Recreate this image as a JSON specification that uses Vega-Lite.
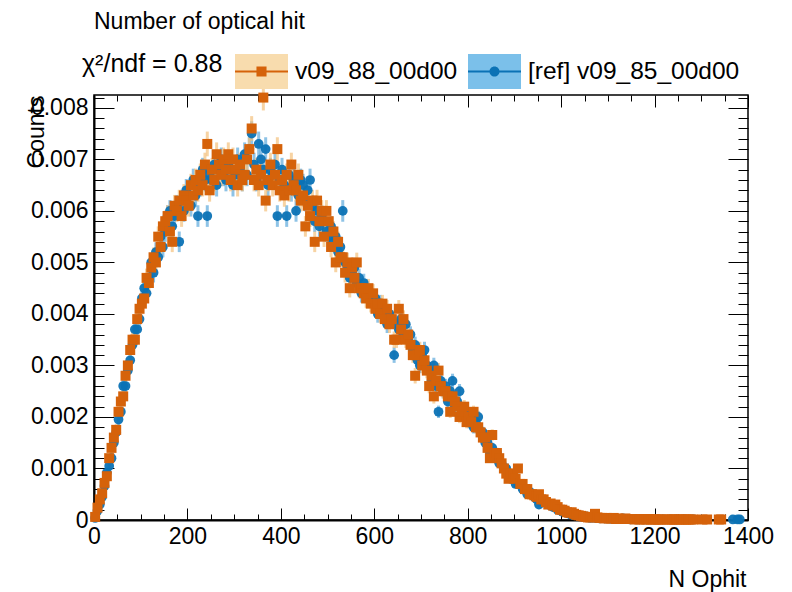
{
  "$schema": "https://vega.github.io/schema/vega-lite/v6.json",
  "width": 654,
  "height": 425,
  "autosize": {"type": "none"},
  "padding": {"left": 94, "top": 95, "right": 44, "bottom": 72},
  "background": "white",
  "title": {"text": "Number of optical hit", "anchor": "start", "frame": "group", "font": "Liberation Sans", "fontSize": 23, "fontWeight": "normal", "color": "black", "baseline": "alphabetic", "offset": -7},
  "data": {"values": [
    {"n":2.5,"o":0.00006,"oe":0.00002,"b":0.00004,"be":0.00002},
    {"n":7.5,"o":0.00024,"oe":0.00004,"b":0.00018,"be":0.00004},
    {"n":12.5,"o":0.0004,"oe":0.00005,"b":0.0003,"be":0.00005},
    {"n":17.5,"o":0.00052,"oe":0.00006,"b":0.00045,"be":0.00006},
    {"n":22.5,"o":0.00072,"oe":0.00007,"b":0.00066,"be":0.00007},
    {"n":27.5,"o":0.00085,"oe":0.00008,"b":0.00092,"be":0.00008},
    {"n":32.5,"o":0.0012,"oe":0.00009,"b":0.00105,"be":0.00009},
    {"n":37.5,"o":0.0014,"oe":0.0001,"b":0.0012,"be":0.00009},
    {"n":42.5,"o":0.0016,"oe":0.00011,"b":0.0015,"be":0.0001},
    {"n":47.5,"o":0.00175,"oe":0.00011,"b":0.0017,"be":0.00011},
    {"n":52.5,"o":0.0021,"oe":0.00012,"b":0.00195,"be":0.00012},
    {"n":57.5,"o":0.0023,"oe":0.00013,"b":0.0021,"be":0.00012},
    {"n":62.5,"o":0.0024,"oe":0.00013,"b":0.0026,"be":0.00014},
    {"n":67.5,"o":0.0028,"oe":0.00014,"b":0.0026,"be":0.00014},
    {"n":72.5,"o":0.003,"oe":0.00015,"b":0.0029,"be":0.00015},
    {"n":77.5,"o":0.0033,"oe":0.00015,"b":0.0031,"be":0.00015},
    {"n":82.5,"o":0.0035,"oe":0.00016,"b":0.0034,"be":0.00016},
    {"n":87.5,"o":0.0035,"oe":0.00016,"b":0.0037,"be":0.00016},
    {"n":92.5,"o":0.0039,"oe":0.00017,"b":0.0037,"be":0.00016},
    {"n":97.5,"o":0.0041,"oe":0.00017,"b":0.0039,"be":0.00017},
    {"n":102.5,"o":0.0042,"oe":0.00017,"b":0.0043,"be":0.00018},
    {"n":107.5,"o":0.0043,"oe":0.00018,"b":0.0045,"be":0.00018},
    {"n":112.5,"o":0.0047,"oe":0.00018,"b":0.0044,"be":0.00018},
    {"n":117.5,"o":0.0046,"oe":0.00018,"b":0.0047,"be":0.00018},
    {"n":122.5,"o":0.0049,"oe":0.00019,"b":0.005,"be":0.00019},
    {"n":127.5,"o":0.0051,"oe":0.00019,"b":0.0048,"be":0.00019},
    {"n":132.5,"o":0.005,"oe":0.00019,"b":0.0052,"be":0.00019},
    {"n":137.5,"o":0.0055,"oe":0.0002,"b":0.0051,"be":0.00019},
    {"n":142.5,"o":0.0053,"oe":0.0002,"b":0.0055,"be":0.0002},
    {"n":147.5,"o":0.0057,"oe":0.0002,"b":0.0053,"be":0.0002},
    {"n":152.5,"o":0.0058,"oe":0.00021,"b":0.0056,"be":0.0002},
    {"n":157.5,"o":0.0059,"oe":0.00021,"b":0.0059,"be":0.00021},
    {"n":162.5,"o":0.0056,"oe":0.0002,"b":0.006,"be":0.00021},
    {"n":167.5,"o":0.0054,"oe":0.0002,"b":0.0057,"be":0.0002},
    {"n":172.5,"o":0.0061,"oe":0.00021,"b":0.0059,"be":0.00021},
    {"n":177.5,"o":0.006,"oe":0.00021,"b":0.0061,"be":0.00021},
    {"n":182.5,"o":0.0062,"oe":0.00021,"b":0.0054,"be":0.0002},
    {"n":187.5,"o":0.0059,"oe":0.00021,"b":0.0062,"be":0.00021},
    {"n":192.5,"o":0.0063,"oe":0.00022,"b":0.006,"be":0.00021},
    {"n":197.5,"o":0.0062,"oe":0.00021,"b":0.0064,"be":0.00022},
    {"n":202.5,"o":0.0061,"oe":0.00021,"b":0.0063,"be":0.00022},
    {"n":207.5,"o":0.0065,"oe":0.00022,"b":0.0061,"be":0.00021},
    {"n":212.5,"o":0.0063,"oe":0.00022,"b":0.0066,"be":0.00022},
    {"n":217.5,"o":0.0066,"oe":0.00022,"b":0.0063,"be":0.00022},
    {"n":222.5,"o":0.0064,"oe":0.00022,"b":0.0059,"be":0.00021},
    {"n":227.5,"o":0.0067,"oe":0.00022,"b":0.0065,"be":0.00022},
    {"n":232.5,"o":0.0065,"oe":0.00022,"b":0.0068,"be":0.00023},
    {"n":237.5,"o":0.0069,"oe":0.00023,"b":0.0066,"be":0.00022},
    {"n":242.5,"o":0.0073,"oe":0.00024,"b":0.0059,"be":0.00021},
    {"n":247.5,"o":0.0064,"oe":0.00022,"b":0.0067,"be":0.00022},
    {"n":252.5,"o":0.0068,"oe":0.00023,"b":0.0066,"be":0.00022},
    {"n":257.5,"o":0.0066,"oe":0.00022,"b":0.0069,"be":0.00023},
    {"n":262.5,"o":0.0071,"oe":0.00023,"b":0.0065,"be":0.00022},
    {"n":267.5,"o":0.0069,"oe":0.00023,"b":0.0068,"be":0.00023},
    {"n":272.5,"o":0.0067,"oe":0.00022,"b":0.007,"be":0.00023},
    {"n":277.5,"o":0.007,"oe":0.00023,"b":0.0067,"be":0.00022},
    {"n":282.5,"o":0.0068,"oe":0.00023,"b":0.0066,"be":0.00022},
    {"n":287.5,"o":0.0071,"oe":0.00023,"b":0.0069,"be":0.00023},
    {"n":292.5,"o":0.0066,"oe":0.00022,"b":0.0068,"be":0.00023},
    {"n":297.5,"o":0.007,"oe":0.00023,"b":0.0065,"be":0.00022},
    {"n":302.5,"o":0.0068,"oe":0.00023,"b":0.0067,"be":0.00022},
    {"n":307.5,"o":0.0065,"oe":0.00022,"b":0.007,"be":0.00023},
    {"n":312.5,"o":0.0069,"oe":0.00023,"b":0.0068,"be":0.00023},
    {"n":317.5,"o":0.0066,"oe":0.00022,"b":0.0066,"be":0.00022},
    {"n":322.5,"o":0.0067,"oe":0.00022,"b":0.0071,"be":0.00023},
    {"n":327.5,"o":0.007,"oe":0.00023,"b":0.0067,"be":0.00022},
    {"n":332.5,"o":0.0072,"oe":0.00023,"b":0.0072,"be":0.00023},
    {"n":337.5,"o":0.0076,"oe":0.00024,"b":0.0075,"be":0.00024},
    {"n":342.5,"o":0.0066,"oe":0.00022,"b":0.0069,"be":0.00023},
    {"n":347.5,"o":0.0068,"oe":0.00023,"b":0.0066,"be":0.00022},
    {"n":352.5,"o":0.0065,"oe":0.00022,"b":0.0073,"be":0.00024},
    {"n":357.5,"o":0.0067,"oe":0.00022,"b":0.007,"be":0.00023},
    {"n":362.5,"o":0.0082,"oe":0.00025,"b":0.0068,"be":0.00023},
    {"n":367.5,"o":0.0062,"oe":0.00021,"b":0.0072,"be":0.00023},
    {"n":372.5,"o":0.0066,"oe":0.00022,"b":0.0065,"be":0.00022},
    {"n":377.5,"o":0.0069,"oe":0.00023,"b":0.0068,"be":0.00023},
    {"n":382.5,"o":0.0065,"oe":0.00022,"b":0.0067,"be":0.00022},
    {"n":387.5,"o":0.0067,"oe":0.00022,"b":0.0069,"be":0.00023},
    {"n":392.5,"o":0.0072,"oe":0.00023,"b":0.0059,"be":0.00021},
    {"n":397.5,"o":0.0064,"oe":0.00022,"b":0.0066,"be":0.00022},
    {"n":402.5,"o":0.0066,"oe":0.00022,"b":0.0068,"be":0.00023},
    {"n":407.5,"o":0.0063,"oe":0.00022,"b":0.0065,"be":0.00022},
    {"n":412.5,"o":0.0067,"oe":0.00022,"b":0.0059,"be":0.00021},
    {"n":417.5,"o":0.0064,"oe":0.00022,"b":0.0067,"be":0.00022},
    {"n":422.5,"o":0.0069,"oe":0.00023,"b":0.0064,"be":0.00022},
    {"n":427.5,"o":0.0065,"oe":0.00022,"b":0.0066,"be":0.00022},
    {"n":432.5,"o":0.0064,"oe":0.00022,"b":0.006,"be":0.00021},
    {"n":437.5,"o":0.0067,"oe":0.00022,"b":0.0063,"be":0.00022},
    {"n":442.5,"o":0.0062,"oe":0.00021,"b":0.0066,"be":0.00022},
    {"n":447.5,"o":0.0063,"oe":0.00022,"b":0.0065,"be":0.00022},
    {"n":452.5,"o":0.0057,"oe":0.0002,"b":0.0062,"be":0.00021},
    {"n":457.5,"o":0.0061,"oe":0.00021,"b":0.0064,"be":0.00022},
    {"n":462.5,"o":0.0059,"oe":0.00021,"b":0.0066,"be":0.00022},
    {"n":467.5,"o":0.0062,"oe":0.00021,"b":0.0061,"be":0.00021},
    {"n":472.5,"o":0.0054,"oe":0.0002,"b":0.0058,"be":0.00021},
    {"n":477.5,"o":0.0062,"oe":0.00021,"b":0.006,"be":0.00021},
    {"n":482.5,"o":0.0058,"oe":0.00021,"b":0.0057,"be":0.0002},
    {"n":487.5,"o":0.006,"oe":0.00021,"b":0.0059,"be":0.00021},
    {"n":492.5,"o":0.0055,"oe":0.0002,"b":0.0058,"be":0.00021},
    {"n":497.5,"o":0.006,"oe":0.00021,"b":0.0056,"be":0.0002},
    {"n":502.5,"o":0.0058,"oe":0.00021,"b":0.0055,"be":0.0002},
    {"n":507.5,"o":0.0053,"oe":0.0002,"b":0.0057,"be":0.0002},
    {"n":512.5,"o":0.0056,"oe":0.0002,"b":0.0054,"be":0.0002},
    {"n":517.5,"o":0.005,"oe":0.00019,"b":0.0055,"be":0.0002},
    {"n":522.5,"o":0.0054,"oe":0.0002,"b":0.0052,"be":0.00019},
    {"n":527.5,"o":0.0051,"oe":0.00019,"b":0.0053,"be":0.0002},
    {"n":532.5,"o":0.0051,"oe":0.00019,"b":0.006,"be":0.00021},
    {"n":537.5,"o":0.0048,"oe":0.00019,"b":0.005,"be":0.00019},
    {"n":542.5,"o":0.005,"oe":0.00019,"b":0.0049,"be":0.00019},
    {"n":547.5,"o":0.0045,"oe":0.00018,"b":0.0047,"be":0.00018},
    {"n":552.5,"o":0.0049,"oe":0.00019,"b":0.0048,"be":0.00019},
    {"n":557.5,"o":0.0047,"oe":0.00018,"b":0.0049,"be":0.00019},
    {"n":562.5,"o":0.005,"oe":0.00019,"b":0.0046,"be":0.00018},
    {"n":567.5,"o":0.0045,"oe":0.00018,"b":0.0047,"be":0.00018},
    {"n":572.5,"o":0.0045,"oe":0.00018,"b":0.0044,"be":0.00018},
    {"n":577.5,"o":0.0044,"oe":0.00018,"b":0.0046,"be":0.00018},
    {"n":582.5,"o":0.0043,"oe":0.00018,"b":0.0045,"be":0.00018},
    {"n":587.5,"o":0.0045,"oe":0.00018,"b":0.0043,"be":0.00018},
    {"n":592.5,"o":0.0042,"oe":0.00017,"b":0.0044,"be":0.00018},
    {"n":597.5,"o":0.0044,"oe":0.00018,"b":0.0042,"be":0.00017},
    {"n":602.5,"o":0.0041,"oe":0.00017,"b":0.0043,"be":0.00018},
    {"n":607.5,"o":0.0042,"oe":0.00017,"b":0.004,"be":0.00017},
    {"n":612.5,"o":0.004,"oe":0.00017,"b":0.0042,"be":0.00017},
    {"n":617.5,"o":0.0042,"oe":0.00017,"b":0.0041,"be":0.00017},
    {"n":622.5,"o":0.0039,"oe":0.00017,"b":0.004,"be":0.00017},
    {"n":627.5,"o":0.0041,"oe":0.00017,"b":0.0038,"be":0.00017},
    {"n":632.5,"o":0.0038,"oe":0.00017,"b":0.004,"be":0.00017},
    {"n":637.5,"o":0.0039,"oe":0.00017,"b":0.0039,"be":0.00017},
    {"n":642.5,"o":0.0035,"oe":0.00016,"b":0.0032,"be":0.00015},
    {"n":647.5,"o":0.0035,"oe":0.00016,"b":0.0038,"be":0.00017},
    {"n":652.5,"o":0.0041,"oe":0.00017,"b":0.0037,"be":0.00016},
    {"n":657.5,"o":0.0037,"oe":0.00016,"b":0.0039,"be":0.00017},
    {"n":662.5,"o":0.0039,"oe":0.00017,"b":0.0036,"be":0.00016},
    {"n":667.5,"o":0.0035,"oe":0.00016,"b":0.0038,"be":0.00017},
    {"n":672.5,"o":0.0036,"oe":0.00016,"b":0.0035,"be":0.00016},
    {"n":677.5,"o":0.0034,"oe":0.00016,"b":0.0036,"be":0.00016},
    {"n":682.5,"o":0.0032,"oe":0.00015,"b":0.0033,"be":0.00016},
    {"n":687.5,"o":0.0028,"oe":0.00015,"b":0.0034,"be":0.00016},
    {"n":692.5,"o":0.0032,"oe":0.00015,"b":0.0031,"be":0.00015},
    {"n":697.5,"o":0.0033,"oe":0.00016,"b":0.003,"be":0.00015},
    {"n":702.5,"o":0.003,"oe":0.00015,"b":0.0032,"be":0.00015},
    {"n":707.5,"o":0.0031,"oe":0.00015,"b":0.0033,"be":0.00016},
    {"n":712.5,"o":0.0029,"oe":0.00015,"b":0.003,"be":0.00015},
    {"n":717.5,"o":0.0026,"oe":0.00014,"b":0.0029,"be":0.00015},
    {"n":722.5,"o":0.0028,"oe":0.00015,"b":0.0027,"be":0.00014},
    {"n":727.5,"o":0.0024,"oe":0.00014,"b":0.003,"be":0.00015},
    {"n":732.5,"o":0.0027,"oe":0.00014,"b":0.0026,"be":0.00014},
    {"n":737.5,"o":0.0029,"oe":0.00015,"b":0.0021,"be":0.00012},
    {"n":742.5,"o":0.0026,"oe":0.00014,"b":0.0027,"be":0.00014},
    {"n":747.5,"o":0.0025,"oe":0.00014,"b":0.0025,"be":0.00014},
    {"n":752.5,"o":0.0025,"oe":0.00014,"b":0.0026,"be":0.00014},
    {"n":757.5,"o":0.0024,"oe":0.00014,"b":0.0023,"be":0.00013},
    {"n":762.5,"o":0.0021,"oe":0.00012,"b":0.0025,"be":0.00014},
    {"n":767.5,"o":0.0024,"oe":0.00014,"b":0.0027,"be":0.00014},
    {"n":772.5,"o":0.0023,"oe":0.00013,"b":0.0022,"be":0.00013},
    {"n":777.5,"o":0.0022,"oe":0.00013,"b":0.0023,"be":0.00013},
    {"n":782.5,"o":0.002,"oe":0.00012,"b":0.0025,"be":0.00014},
    {"n":787.5,"o":0.0021,"oe":0.00012,"b":0.0021,"be":0.00012},
    {"n":792.5,"o":0.0022,"oe":0.00013,"b":0.002,"be":0.00012},
    {"n":797.5,"o":0.0019,"oe":0.00012,"b":0.0021,"be":0.00012},
    {"n":802.5,"o":0.002,"oe":0.00012,"b":0.0019,"be":0.00012},
    {"n":807.5,"o":0.0019,"oe":0.00012,"b":0.002,"be":0.00012},
    {"n":812.5,"o":0.0021,"oe":0.00012,"b":0.0018,"be":0.00012},
    {"n":817.5,"o":0.0018,"oe":0.00012,"b":0.0019,"be":0.00012},
    {"n":822.5,"o":0.0018,"oe":0.00012,"b":0.002,"be":0.00012},
    {"n":827.5,"o":0.0017,"oe":0.00011,"b":0.0017,"be":0.00011},
    {"n":832.5,"o":0.0016,"oe":0.00011,"b":0.0017,"be":0.00011},
    {"n":837.5,"o":0.0016,"oe":0.00011,"b":0.0015,"be":0.00011},
    {"n":842.5,"o":0.0014,"oe":0.0001,"b":0.0015,"be":0.00011},
    {"n":847.5,"o":0.0012,"oe":0.00009,"b":0.0013,"be":0.0001},
    {"n":852.5,"o":0.00165,"oe":0.00011,"b":0.0014,"be":0.0001},
    {"n":857.5,"o":0.0013,"oe":0.0001,"b":0.0012,"be":0.00009},
    {"n":862.5,"o":0.0013,"oe":0.0001,"b":0.0013,"be":0.0001},
    {"n":867.5,"o":0.0012,"oe":0.00009,"b":0.0011,"be":0.00009},
    {"n":872.5,"o":0.0011,"oe":0.00009,"b":0.0011,"be":0.00009},
    {"n":877.5,"o":0.001,"oe":0.00009,"b":0.001,"be":0.00009},
    {"n":882.5,"o":0.0009,"oe":0.00008,"b":0.001,"be":0.00009},
    {"n":887.5,"o":0.0008,"oe":0.00008,"b":0.0009,"be":0.00008},
    {"n":892.5,"o":0.0009,"oe":0.00008,"b":0.0008,"be":0.00008},
    {"n":897.5,"o":0.0009,"oe":0.00008,"b":0.0008,"be":0.00008},
    {"n":902.5,"o":0.0008,"oe":0.00008,"b":0.0007,"be":0.00007},
    {"n":907.5,"o":0.001,"oe":0.00009,"b":0.0007,"be":0.00007},
    {"n":912.5,"o":0.0007,"oe":0.00007,"b":0.0007,"be":0.00007},
    {"n":917.5,"o":0.0007,"oe":0.00007,"b":0.0006,"be":0.00007},
    {"n":922.5,"o":0.0006,"oe":0.00007,"b":0.0006,"be":0.00007},
    {"n":927.5,"o":0.0006,"oe":0.00007,"b":0.0005,"be":0.00006},
    {"n":932.5,"o":0.0005,"oe":0.00006,"b":0.00055,"be":0.00006},
    {"n":937.5,"o":0.0005,"oe":0.00006,"b":0.0005,"be":0.00006},
    {"n":942.5,"o":0.00048,"oe":0.00006,"b":0.00045,"be":0.00006},
    {"n":947.5,"o":0.00045,"oe":0.00006,"b":0.0004,"be":0.00005},
    {"n":952.5,"o":0.0005,"oe":0.00006,"b":0.0003,"be":0.00005},
    {"n":957.5,"o":0.0004,"oe":0.00005,"b":0.0004,"be":0.00005},
    {"n":962.5,"o":0.0004,"oe":0.00005,"b":0.00035,"be":0.00005},
    {"n":967.5,"o":0.00035,"oe":0.00005,"b":0.00033,"be":0.00005},
    {"n":972.5,"o":0.0003,"oe":0.00005,"b":0.0003,"be":0.00005},
    {"n":977.5,"o":0.00032,"oe":0.00005,"b":0.00028,"be":0.00005},
    {"n":982.5,"o":0.00028,"oe":0.00005,"b":0.00025,"be":0.00004},
    {"n":987.5,"o":0.0003,"oe":0.00005,"b":0.00024,"be":0.00004},
    {"n":992.5,"o":0.00025,"oe":0.00004,"b":0.0002,"be":0.00004},
    {"n":997.5,"o":0.0002,"oe":0.00004,"b":0.00019,"be":0.00004},
    {"n":1002.5,"o":0.0002,"oe":0.00004,"b":0.00016,"be":0.00004},
    {"n":1007.5,"o":0.00018,"oe":0.00004,"b":0.00015,"be":0.00004},
    {"n":1012.5,"o":0.00015,"oe":0.00003,"b":0.00014,"be":0.00003},
    {"n":1017.5,"o":0.00014,"oe":0.00003,"b":0.00012,"be":0.00003},
    {"n":1022.5,"o":0.00015,"oe":0.00003,"b":0.0001,"be":0.00003},
    {"n":1027.5,"o":0.00012,"oe":0.00003,"b":0.0001,"be":0.00003},
    {"n":1032.5,"o":0.0001,"oe":0.00003,"b":0.00009,"be":0.00003},
    {"n":1037.5,"o":0.00009,"oe":0.00003,"b":0.00008,"be":0.00003},
    {"n":1042.5,"o":0.00008,"oe":0.00003,"b":0.00008,"be":0.00003},
    {"n":1047.5,"o":0.00007,"oe":0.00002,"b":0.00006,"be":0.00002},
    {"n":1052.5,"o":0.00006,"oe":0.00002,"b":0.00007,"be":0.00002},
    {"n":1057.5,"o":0.00005,"oe":0.00002,"b":0.00005,"be":0.00002},
    {"n":1062.5,"o":0.00005,"oe":0.00002,"b":0.00004,"be":0.00002},
    {"n":1067.5,"o":0.00006,"oe":0.00002,"b":0.00005,"be":0.00002},
    {"n":1072.5,"o":0.00012,"oe":0.00003,"b":0.00004,"be":0.00002},
    {"n":1077.5,"o":0.00005,"oe":0.00002,"b":0.00004,"be":0.00002},
    {"n":1082.5,"o":0.00004,"oe":0.00002,"b":0.00003,"be":0.00002},
    {"n":1087.5,"o":0.00004,"oe":0.00002,"b":0.00004,"be":0.00002},
    {"n":1092.5,"o":0.00003,"oe":0.00002,"b":0.00003,"be":0.00002},
    {"n":1097.5,"o":0.00004,"oe":0.00002,"b":0.00003,"be":0.00002},
    {"n":1102.5,"o":0.00003,"oe":0.00002,"b":0.00003,"be":0.00002},
    {"n":1107.5,"o":0.00003,"oe":0.00002,"b":0.00002,"be":0.00001},
    {"n":1112.5,"o":0.00004,"oe":0.00002,"b":0.00002,"be":0.00001},
    {"n":1117.5,"o":0.00002,"oe":0.00001,"b":0.00003,"be":0.00002},
    {"n":1122.5,"o":0.00003,"oe":0.00002,"b":0.00002,"be":0.00001},
    {"n":1127.5,"o":0.00002,"oe":0.00001,"b":0.00002,"be":0.00001},
    {"n":1132.5,"o":0.00002,"oe":0.00001,"b":0.00003,"be":0.00002},
    {"n":1137.5,"o":0.00003,"oe":0.00002,"b":0.00002,"be":0.00001},
    {"n":1142.5,"o":0.00002,"oe":0.00001,"b":0.00002,"be":0.00001},
    {"n":1147.5,"o":0.00002,"oe":0.00001,"b":0.00001,"be":0.00001},
    {"n":1152.5,"o":0.00002,"oe":0.00001,"b":0.00002,"be":0.00001},
    {"n":1157.5,"o":0.00001,"oe":0.00001,"b":0.00002,"be":0.00001},
    {"n":1162.5,"o":0.00002,"oe":0.00001,"b":0.00001,"be":0.00001},
    {"n":1167.5,"o":0.00001,"oe":0.00001,"b":0.00001,"be":0.00001},
    {"n":1172.5,"o":0.00002,"oe":0.00001,"b":0.00002,"be":0.00001},
    {"n":1177.5,"o":0.00001,"oe":0.00001,"b":0.00001,"be":0.00001},
    {"n":1182.5,"o":0.00001,"oe":0.00001,"b":0.00001,"be":0.00001},
    {"n":1187.5,"o":0.00002,"oe":0.00001},
    {"n":1192.5,"o":0.00001,"oe":0.00001,"b":0.00001,"be":0.00001},
    {"n":1197.5,"o":0.00001,"oe":0.00001,"b":0.00001,"be":0.00001},
    {"n":1202.5,"o":0.00001,"oe":0.00001},
    {"n":1207.5,"o":0.00001,"oe":0.00001,"b":0.00001,"be":0.00001},
    {"n":1212.5,"o":0.00001,"oe":0.00001},
    {"n":1217.5,"o":0.00001,"oe":0.00001,"b":0.00001,"be":0.00001},
    {"n":1227.5,"o":0.00001,"oe":0.00001},
    {"n":1232.5,"o":0.00001,"oe":0.00001,"b":0.00001,"be":0.00001},
    {"n":1237.5,"o":0.00001,"oe":0.00001},
    {"n":1242.5,"o":0.00001,"oe":0.00001},
    {"n":1247.5,"o":0.00001,"oe":0.00001,"b":0.00001,"be":0.00001},
    {"n":1252.5,"o":0.00001,"oe":0.00001},
    {"n":1257.5,"o":0.00001,"oe":0.00001},
    {"n":1262.5,"o":0.00001,"oe":0.00001,"b":0.00001,"be":0.00001},
    {"n":1267.5,"o":0.00001,"oe":0.00001},
    {"n":1272.5,"o":0.00001,"oe":0.00001},
    {"n":1277.5,"o":0.00001,"oe":0.00001},
    {"n":1282.5,"o":0.00001,"oe":0.00001,"b":0.00001,"be":0.00001},
    {"n":1302.5,"o":0.00001,"oe":0.00001},
    {"n":1312.5,"o":0.00001,"oe":0.00001},
    {"n":1337.5,"o":0.00001,"oe":0.00001},
    {"n":1342.5,"o":0.00001,"oe":0.00001},
    {"n":1367.5,"b":0.00001,"be":0.00001},
    {"n":1377.5,"b":0.00001,"be":0.00001},
    {"n":1382.5,"b":0.00001,"be":0.00001}
  ]},
  "layer": [
    {
      "transform": [{"filter": "false"}],
      "mark": {"type": "point", "opacity": 0},
      "encoding": {
        "x": {"field": "n", "type": "quantitative", "scale": {"domain": [0, 1400], "nice": false},
          "axis": {"orient": "bottom", "values": [0, 200, 400, 600, 800, 1000, 1200, 1400], "format": "d", "ticks": false, "domain": true, "domainWidth": 2, "domainColor": "black", "labelPadding": 5, "labelFlush": false, "labelOverlap": false, "labelBound": false, "title": "N Ophit", "titleAlign": "right", "titleAnchor": "end", "titleX": 652, "titleY": 66, "titleBaseline": "alphabetic"}},
        "y": {"field": "b", "type": "quantitative", "scale": {"domain": [0, 0.00825], "nice": false},
          "axis": {"orient": "left", "values": [0, 0.001, 0.002, 0.003, 0.004, 0.005, 0.006, 0.007, 0.008], "labelExpr": "datum.value == 0 ? '0' : format(datum.value, '.3f')", "ticks": false, "domain": true, "domainWidth": 2, "domainColor": "black", "labelPadding": 6, "labelOverlap": false, "labelBound": false, "title": "Counts", "titleAngle": 270, "titleAlign": "right", "titleX": -58, "titleY": 0, "titleBaseline": "middle"}}
      }
    },
    {
      "transform": [{"filter": "false"}],
      "mark": {"type": "point", "opacity": 0},
      "encoding": {
        "x": {"field": "n", "type": "quantitative", "scale": {"domain": [0, 1400], "nice": false},
          "axis": {"orient": "bottom", "values": [0,50,100,150,200,250,300,350,400,450,500,550,600,650,700,750,800,850,900,950,1000,1050,1100,1150,1200,1250,1300,1350,1400], "labels": false, "domain": false, "title": null, "tickColor": "black", "tickWidth": 1, "tickSize": {"condition": {"test": "datum.value % 200 == 0", "value": -12}, "value": -6}}},
        "y": {"field": "b", "type": "quantitative", "scale": {"domain": [0, 0.00825], "nice": false},
          "axis": {"orient": "left", "values": [0,0.0002,0.0004,0.0006,0.0008,0.001,0.0012,0.0014,0.0016,0.0018,0.002,0.0022,0.0024,0.0026,0.0028,0.003,0.0032,0.0034,0.0036,0.0038,0.004,0.0042,0.0044,0.0046,0.0048,0.005,0.0052,0.0054,0.0056,0.0058,0.006,0.0062,0.0064,0.0066,0.0068,0.007,0.0072,0.0074,0.0076,0.0078,0.008,0.0082], "labels": false, "domain": false, "title": null, "tickColor": "black", "tickWidth": 1, "tickSize": {"condition": {"test": "round(datum.value*10000) % 10 == 0", "value": -20}, "value": -10}}}
      }
    },
    {
      "transform": [{"filter": "false"}],
      "mark": {"type": "point", "opacity": 0},
      "encoding": {
        "x": {"field": "n", "type": "quantitative", "scale": {"domain": [0, 1400], "nice": false},
          "axis": {"orient": "top", "values": [0,50,100,150,200,250,300,350,400,450,500,550,600,650,700,750,800,850,900,950,1000,1050,1100,1150,1200,1250,1300,1350,1400], "labels": false, "domain": false, "title": null, "tickColor": "black", "tickWidth": 1, "tickSize": {"condition": {"test": "datum.value % 200 == 0", "value": -12}, "value": -6}}},
        "y": {"field": "b", "type": "quantitative", "scale": {"domain": [0, 0.00825], "nice": false},
          "axis": {"orient": "right", "values": [0,0.0002,0.0004,0.0006,0.0008,0.001,0.0012,0.0014,0.0016,0.0018,0.002,0.0022,0.0024,0.0026,0.0028,0.003,0.0032,0.0034,0.0036,0.0038,0.004,0.0042,0.0044,0.0046,0.0048,0.005,0.0052,0.0054,0.0056,0.0058,0.006,0.0062,0.0064,0.0066,0.0068,0.007,0.0072,0.0074,0.0076,0.0078,0.008,0.0082], "labels": false, "domain": false, "title": null, "tickColor": "black", "tickWidth": 1, "tickSize": {"condition": {"test": "round(datum.value*10000) % 10 == 0", "value": -20}, "value": -10}}}
      }
    },
    {
      "layer": [
        {
          "transform": [{"filter": "isValid(datum.b)"}],
          "mark": {"type": "errorbar", "ticks": false, "thickness": 3, "color": "#5ea9dc", "opacity": 0.7},
          "encoding": {
            "x": {"field": "n", "type": "quantitative", "scale": {"domain": [0, 1400], "nice": false}, "axis": null},
            "y": {"field": "b", "type": "quantitative", "scale": {"domain": [0, 0.00825], "nice": false}, "axis": null},
            "yError": {"field": "be"}
          }
        },
        {
          "transform": [{"filter": "isValid(datum.o)"}],
          "mark": {"type": "errorbar", "ticks": false, "thickness": 3, "color": "#f4c17c", "opacity": 0.7},
          "encoding": {
            "x": {"field": "n", "type": "quantitative", "scale": {"domain": [0, 1400], "nice": false}, "axis": null},
            "y": {"field": "o", "type": "quantitative", "scale": {"domain": [0, 0.00825], "nice": false}, "axis": null},
            "yError": {"field": "oe"}
          }
        },
        {
          "transform": [{"filter": "isValid(datum.b)"}],
          "mark": {"type": "point", "shape": "circle", "filled": true, "size": 95, "color": "#0b72b5", "opacity": 0.95},
          "encoding": {
            "x": {"field": "n", "type": "quantitative", "scale": {"domain": [0, 1400], "nice": false}, "axis": null},
            "y": {"field": "b", "type": "quantitative", "scale": {"domain": [0, 0.00825], "nice": false}, "axis": null}
          }
        },
        {
          "transform": [{"filter": "isValid(datum.o)"}],
          "mark": {"type": "point", "shape": "square", "filled": true, "size": 100, "color": "#d5620a", "opacity": 1},
          "encoding": {
            "x": {"field": "n", "type": "quantitative", "scale": {"domain": [0, 1400], "nice": false}, "axis": null},
            "y": {"field": "o", "type": "quantitative", "scale": {"domain": [0, 0.00825], "nice": false}, "axis": null}
          }
        }
      ]
    },
    {
      "transform": [{"filter": "false"}],
      "mark": {"type": "point", "filled": true, "opacity": 1},
      "encoding": {
        "color": {"datum": "A", "type": "nominal", "scale": {"domain": ["A", "B"], "range": ["#f8dcae", "#7bc0ea"]},
          "legend": {"title": "χ²/ndf = 0.88", "titleColor": "transparent", "labelColor": "transparent", "labelExpr": "datum.value == 'A' ? 'v09_88_00d00' : '[ref] v09_85_00d00'", "symbolType": "M-1,-0.66H1V0.66H-1Z"}}
      }
    },
    {
      "transform": [{"filter": "false"}],
      "mark": {"type": "point", "filled": true, "opacity": 1},
      "encoding": {
        "color": {"datum": "v09_88_00d00", "type": "nominal", "scale": {"domain": ["v09_88_00d00", "[ref] v09_85_00d00"], "range": ["#d5620a", "#0b72b5"]},
          "legend": {"title": "χ²/ndf = 0.88"}},
        "shape": {"datum": "v09_88_00d00", "type": "nominal", "scale": {"domain": ["v09_88_00d00", "[ref] v09_85_00d00"], "range": ["M-1,-0.04H1V0.04H-1Z M-0.19,-0.19H0.19V0.19H-0.19Z", "M-1,-0.04H1V0.04H-1Z M-0.19,0A0.19,0.19,0,1,1,0.19,0A0.19,0.19,0,1,1,-0.19,0Z"]},
          "legend": {"title": "χ²/ndf = 0.88"}}
      }
    }
  ],
  "resolve": {"scale": {"color": "independent", "shape": "independent"}, "axis": {"x": "independent", "y": "independent"}},
  "config": {
    "font": "Liberation Sans",
    "view": {"stroke": "black", "strokeWidth": 1.5},
    "axis": {"labelFont": "Liberation Sans", "labelFontSize": 23, "labelColor": "black", "titleFont": "Liberation Sans", "titleFontSize": 23, "titleFontWeight": "normal", "titleColor": "black", "grid": false},
    "legend": {"orient": "none", "legendX": -12, "legendY": -50, "direction": "horizontal", "titleOrient": "left", "titleFont": "Liberation Sans", "titleFontSize": 25, "titleFontWeight": "normal", "titleColor": "black", "titleBaseline": "middle", "titleAnchor": "middle", "titlePadding": 12, "labelFont": "Liberation Sans", "labelFontSize": 24.5, "labelColor": "black", "labelOffset": 7, "columnPadding": 10, "symbolSize": 2809, "symbolStrokeWidth": 0, "symbolOpacity": 1, "padding": 0, "labelLimit": 400}
  }
}
